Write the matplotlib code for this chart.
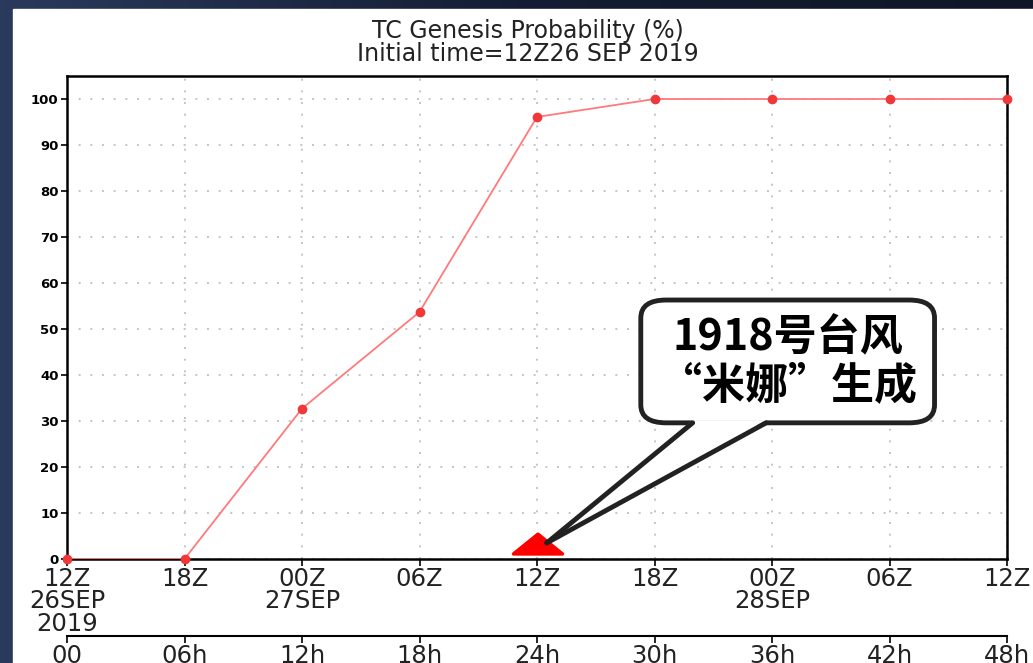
import matplotlib
matplotlib.use("Agg")
import matplotlib.pyplot as plt
import numpy as np
from matplotlib.patches import FancyBboxPatch, Polygon, Rectangle

# data
hours = [0, 6, 12, 18, 24, 30, 36, 42, 48]
prob = [0, 0, 32.7, 53.7, 96.1, 100, 100, 100, 100]
time_labels = ["12Z\n26SEP\n2019", "18Z", "00Z\n27SEP", "06Z", "12Z",
               "18Z", "00Z\n28SEP", "06Z", "12Z"]
lead_labels = ["00", "06h", "12h", "18h", "24h", "30h", "36h", "42h", "48h"]
yticks = [0, 10, 20, 30, 40, 50, 60, 70, 80, 90, 100]
genesis_hour = 24
note = "1918号台风\n“米娜”生成"

W, H = 1033, 663
fig = plt.figure(figsize=(W / 100, H / 100), dpi=100)

# dark slide background + white panel
bg = fig.add_axes([0, 0, 1, 1], zorder=-10)
grad = np.linspace(0, 1, 256).reshape(1, -1)
bg.imshow(grad, cmap=matplotlib.colors.LinearSegmentedColormap.from_list(
    "bgc", ["#2a3a5c", "#141d33", "#0f1628"]), aspect="auto", extent=[0, 1, 0, 1])
bg.add_patch(Rectangle((13 / W, 0), 1, 1 - 9 / H, color="white", transform=bg.transAxes))
bg.set_xlim(0, 1)
bg.set_ylim(0, 1)
bg.axis("off")

ax = fig.add_axes([67 / W, 1 - 559 / H, 940 / W, (559 - 76) / H])
ax.plot(hours, prob, color="#ff7a7a", lw=1.3, zorder=3)
ax.plot(hours, prob, "o", color="#f03838", ms=6, zorder=4, clip_on=False)

ax.set_xlim(0, 48)
ax.set_ylim(0, 105)
ax.set_xticks(hours)
ax.set_xticklabels(time_labels, fontsize=17.5, color="#222222", linespacing=0.9)
ax.set_yticks(yticks)
ax.set_yticklabels([str(v) for v in yticks], fontsize=9.5, fontweight="bold")
ax.tick_params(axis="x", length=5, width=1.2, pad=1)
ax.tick_params(axis="y", length=4, width=1.2, pad=2)
ax.grid(True, color="#c4c4c4", linestyle=(0, (1, 5)), lw=1.4)

for side in ["left", "right", "bottom"]:
    ax.spines[side].set_linestyle((0, (4, 1)))
    ax.spines[side].set_linewidth(1.8)
ax.spines["top"].set_linewidth(1.8)

fig.text(528 / W, 1 - 31 / H, "TC Genesis Probability (%)", ha="center",
         va="center", fontsize=17, color="#222222")
fig.text(528 / W, 1 - 54 / H, "Initial time=12Z26 SEP 2019", ha="center",
         va="center", fontsize=17, color="#222222")

# lead-time axis
ax2 = fig.add_axes([67 / W, 1 - 636 / H, 940 / W, 0.001])
ax2.set_xlim(0, 48)
ax2.set_xticks(hours)
ax2.set_xticklabels(lead_labels, fontsize=17.5, color="#222222")
ax2.set_yticks([])
for side in ["left", "right", "top"]:
    ax2.spines[side].set_visible(False)
ax2.spines["bottom"].set_linewidth(1.5)
ax2.tick_params(axis="x", length=5, width=1.2, pad=1)
ax2.patch.set_alpha(0)

# genesis marker
tri = Polygon([[genesis_hour - 1.2, 1.1], [genesis_hour + 0.05, 5.4],
               [genesis_hour + 1.3, 1.1]], closed=True, color="red",
              joinstyle="round", lw=2.5, zorder=5, clip_on=False)
ax.add_patch(tri)

# callout box
bx0, bx1, by0, by1 = 29.3, 44.3, 29.6, 56.3
box = FancyBboxPatch((bx0, by0), bx1 - bx0, by1 - by0,
                     boxstyle="round,pad=0,rounding_size=1.3", mutation_aspect=3.0,
                     facecolor="white", edgecolor="#222222", lw=3.5, zorder=6)
ax.add_patch(box)
tip = (genesis_hour + 0.5, 3.5)
b1 = (31.95, by0)
b2 = (35.7, by0)
ax.add_patch(Polygon([tip, (b1[0], by0 + 0.6), (b2[0], by0 + 0.6)], closed=True,
                     facecolor="white", edgecolor="none", zorder=7))
ax.plot([b1[0], tip[0]], [b1[1], tip[1]], color="#222222", lw=3.5,
        solid_capstyle="round", zorder=8)
ax.plot([b2[0], tip[0]], [b2[1], tip[1]], color="#222222", lw=3.5,
        solid_capstyle="round", zorder=8)
ax.text((bx0 + bx1) / 2, (by0 + by1) / 2, note, ha="center", va="center",
        fontsize=31, fontweight="black", family=["Noto Sans CJK SC", "DejaVu Sans"],
        linespacing=1.12, color="black", zorder=9)

fig.savefig("out.png", dpi=100)
